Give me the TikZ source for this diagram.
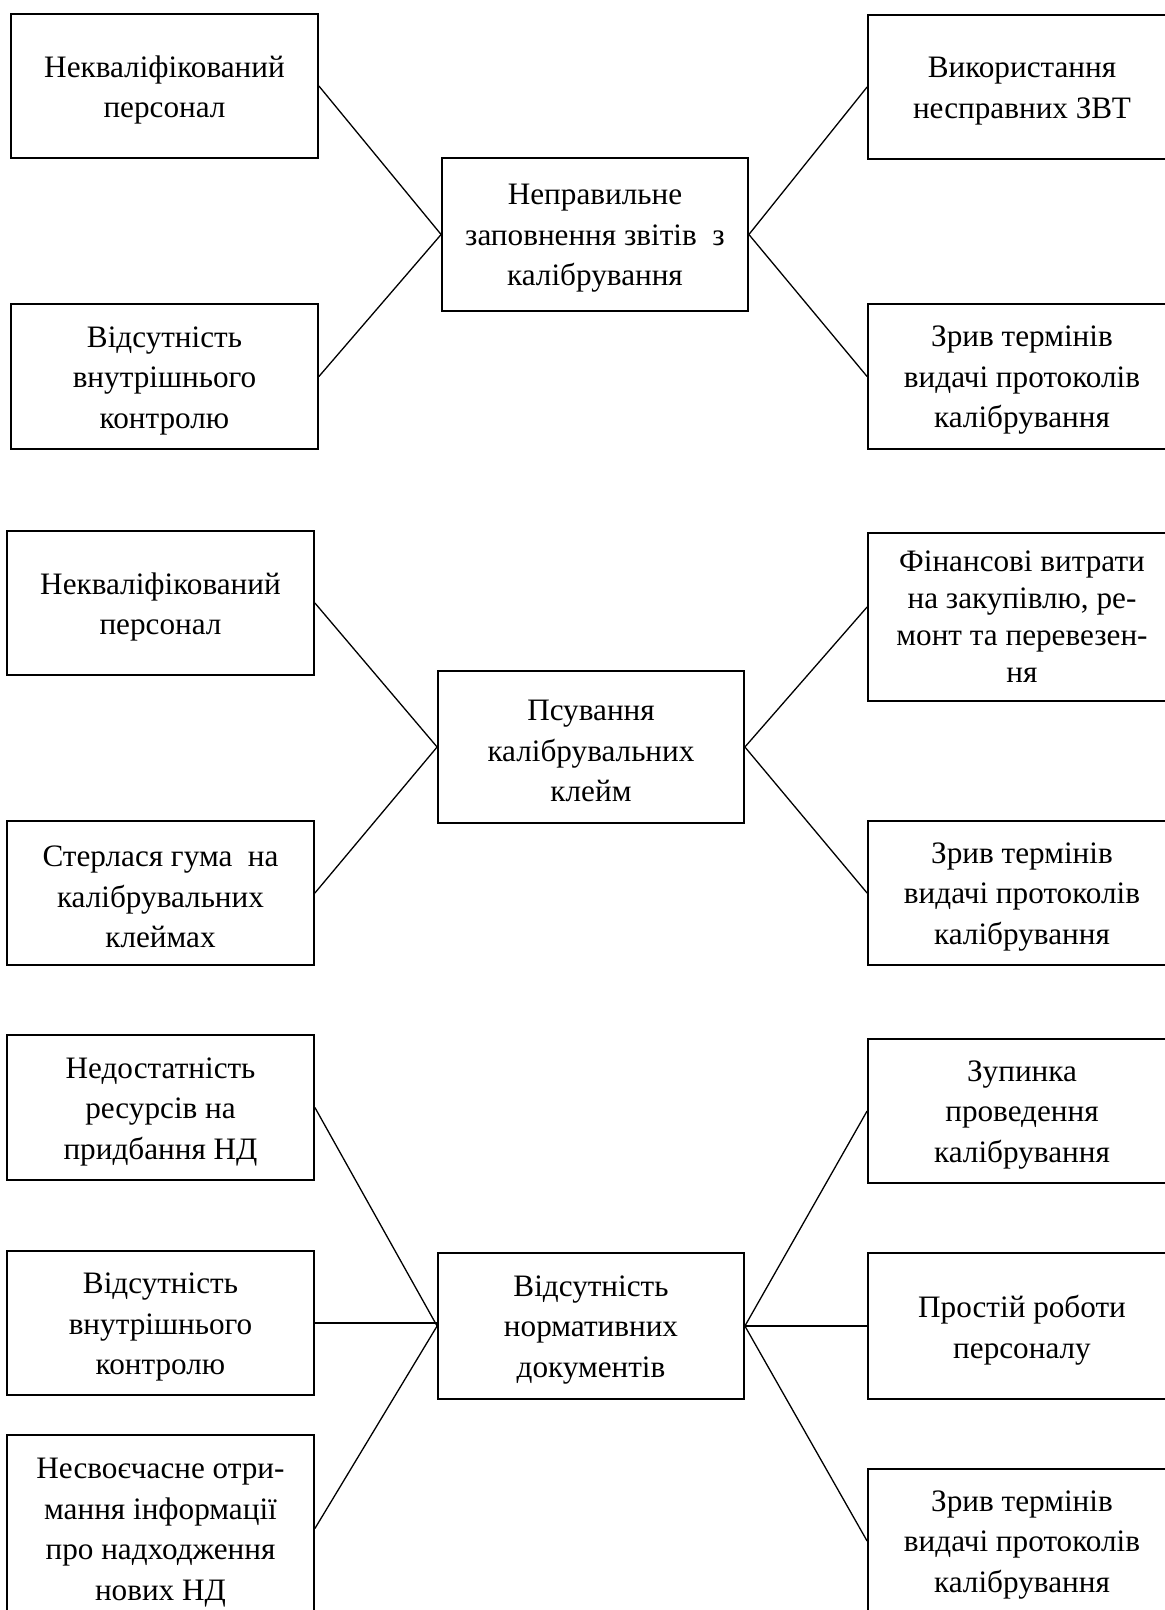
\documentclass[tikz,border=0pt]{standalone}
\usepackage{fontspec}
\setmainfont{Liberation Serif}
\newcommand{\boxfont}{\fontsize{31.2pt}{40.5pt}\selectfont}
\newcommand{\tightfont}{\fontsize{31.2pt}{37pt}\selectfont}
\tikzset{
  box/.style={draw, line width=1.8pt, inner sep=0pt, minimum width=307pt, minimum height=144pt},
  txtl/.style={align=center, inner sep=0pt, font=\boxfont, yshift=-4pt},
  conn/.style={line width=1.3pt}
}
\begin{document}
\begin{tikzpicture}[x=1pt,y=-1pt]
\useasboundingbox (0,0) rectangle (1165,1610);
\clip (0,0) rectangle (1165,1610);
% top group
\node[box, label={[txtl]center:{Некваліфікований\\персонал}}] (a1) at (164.5,86) {};
\node[box, minimum height=153pt, minimum width=306pt, label={[txtl]center:{Неправильне\\заповнення звітів\ \ з\\калібрування}}] (c1) at (595,234.5) {};
\node[box, minimum height=145pt, label={[txtl]center:{Відсутність\\внутрішнього\\контролю}}] (a2) at (164.5,376.5) {};
\node[box, minimum width=308pt, label={[txtl]center:{Використання\\несправних ЗВТ}}] (b1) at (1022,87) {};
\node[box, minimum width=308pt, minimum height=145pt, label={[txtl]center:{Зрив термінів\\видачі протоколів\\калібрування}}] (b2) at (1022,376.5) {};
\draw[conn] (a1.east) -- (c1.west);
\draw[conn] (a2.east) -- (c1.west);
\draw[conn] (b1.west) -- (c1.east);
\draw[conn] (b2.west) -- (c1.east);
% middle group
\node[box, label={[txtl]center:{Некваліфікований\\персонал}}] (d1) at (160.5,603) {};
\node[box, minimum height=152pt, minimum width=306pt, label={[txtl]center:{Псування\\калібрувальних\\клейм}}] (c2) at (591,747) {};
\node[box, label={[txtl]center:{Стерлася гума\ \ на\\калібрувальних\\клеймах}}] (d2) at (160.5,893) {};
\node[box, minimum width=308pt, minimum height=168pt, label={[txtl, font=\tightfont, yshift=4pt]center:{Фінансові витрати\\на закупівлю, ре-\\монт та перевезен-\\ня}}] (e1) at (1022,617) {};
\node[box, minimum width=308pt, label={[txtl]center:{Зрив термінів\\видачі протоколів\\калібрування}}] (e2) at (1022,893) {};
\draw[conn] (d1.east) -- (c2.west);
\draw[conn] (d2.east) -- (c2.west);
\draw[conn] ([yshift=10pt]e1.west) -- (c2.east);
\draw[conn] (e2.west) -- (c2.east);
% bottom group
\node[box, minimum height=145pt, label={[txtl]center:{Недостатність\\ресурсів на\\придбання НД}}] (f1) at (160.5,1107.5) {};
\node[box, label={[txtl]center:{Відсутність\\внутрішнього\\контролю}}] (f2) at (160.5,1323) {};
\node[box, minimum height=187pt, label={[txtl]center:{Несвоєчасне отри-\\мання інформації\\про надходження\\нових НД}}] (f3) at (160.5,1528.5) {};
\node[box, minimum height=146pt, minimum width=306pt, label={[txtl]center:{Відсутність\\нормативних\\документів}}] (c3) at (591,1326) {};
\node[box, minimum width=308pt, label={[txtl]center:{Зупинка\\проведення\\калібрування}}] (g1) at (1022,1111) {};
\node[box, minimum width=308pt, minimum height=146pt, label={[txtl]center:{Простій роботи\\персоналу}}] (g2) at (1022,1326) {};
\node[box, minimum width=308pt, label={[txtl]center:{Зрив термінів\\видачі протоколів\\калібрування}}] (g3) at (1022,1541) {};
\draw[conn] (f1.east) -- (c3.west);
\draw[conn] (f2.east) -- (c3.west |- f2.east);
\draw[conn] (f3.east) -- (c3.west);
\draw[conn] (g1.west) -- (c3.east);
\draw[conn] (g2.west) -- (c3.east);
\draw[conn] (g3.west) -- (c3.east);
\end{tikzpicture}
\end{document}
